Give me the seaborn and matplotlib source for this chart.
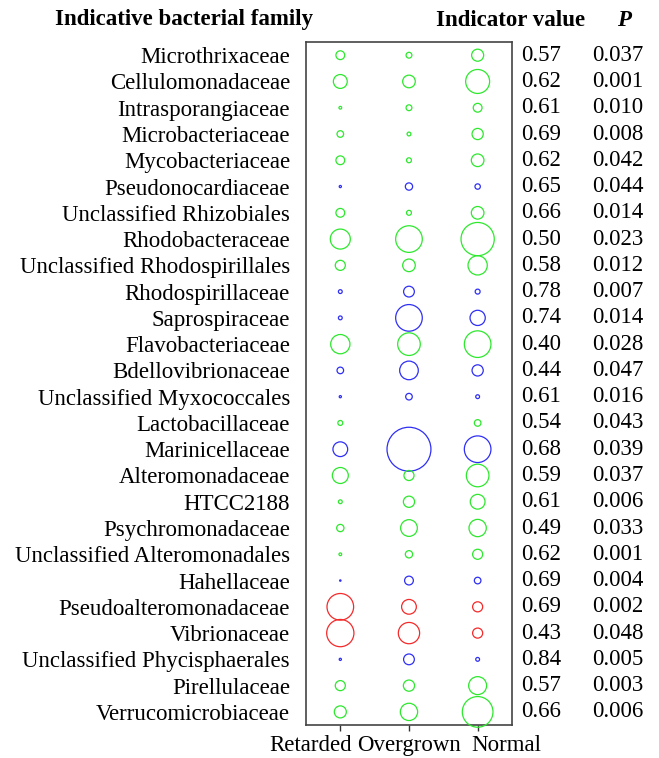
import numpy as np
import pandas as pd
import matplotlib
matplotlib.use("Agg")
import matplotlib.pyplot as plt
import matplotlib.transforms as mtransforms
import seaborn as sns

# Indicator families, listed top to bottom
families = [
    "Microthrixaceae", "Cellulomonadaceae", "Intrasporangiaceae",
    "Microbacteriaceae", "Mycobacteriaceae", "Pseudonocardiaceae",
    "Unclassified Rhizobiales", "Rhodobacteraceae",
    "Unclassified Rhodospirillales", "Rhodospirillaceae", "Saprospiraceae",
    "Flavobacteriaceae", "Bdellovibrionaceae", "Unclassified Myxococcales",
    "Lactobacillaceae", "Marinicellaceae", "Alteromonadaceae", "HTCC2188",
    "Psychromonadaceae", "Unclassified Alteromonadales", "Hahellaceae",
    "Pseudoalteromonadaceae", "Vibrionaceae", "Unclassified Phycisphaerales",
    "Pirellulaceae", "Verrucomicrobiaceae",
]

groups = ["Retarded", "Overgrown", "Normal"]

# Group for which each family is an indicator
indicator_of = [
    "Normal", "Normal", "Normal", "Normal", "Normal", "Overgrown",
    "Normal", "Normal", "Normal", "Overgrown", "Overgrown", "Normal",
    "Overgrown", "Overgrown", "Normal", "Overgrown", "Normal", "Normal",
    "Normal", "Normal", "Overgrown", "Retarded", "Retarded", "Overgrown",
    "Normal", "Normal",
]

# Relative abundance (%) in each group
retarded = [0.16, 0.40, 0.015, 0.09, 0.16, 0.01, 0.16, 0.83, 0.21, 0.03,
            0.03, 0.77, 0.09, 0.01, 0.05, 0.45, 0.53, 0.03, 0.11, 0.015,
            0.004, 1.47, 1.54, 0.01, 0.21, 0.30]
overgrown = [0.07, 0.33, 0.07, 0.03, 0.05, 0.11, 0.05, 1.47, 0.33, 0.24,
             1.47, 1.06, 0.72, 0.09, 0.0, 4.00, 0.21, 0.26, 0.58, 0.11,
             0.16, 0.45, 0.94, 0.24, 0.26, 0.62]
normal = [0.30, 1.19, 0.16, 0.26, 0.33, 0.06, 0.33, 2.29, 0.77, 0.05,
          0.48, 1.47, 0.26, 0.03, 0.09, 1.47, 1.06, 0.45, 0.62, 0.21,
          0.09, 0.21, 0.21, 0.03, 0.67, 1.95]

indicator_value = ["0.57", "0.62", "0.61", "0.69", "0.62", "0.65", "0.66",
                   "0.50", "0.58", "0.78", "0.74", "0.40", "0.44", "0.61",
                   "0.54", "0.68", "0.59", "0.61", "0.49", "0.62", "0.69",
                   "0.69", "0.43", "0.84", "0.57", "0.66"]
p_value = ["0.037", "0.001", "0.010", "0.008", "0.042", "0.044", "0.014",
           "0.023", "0.012", "0.007", "0.014", "0.028", "0.047", "0.016",
           "0.043", "0.039", "0.037", "0.006", "0.033", "0.001", "0.004",
           "0.002", "0.048", "0.005", "0.003", "0.006"]

palette = {"Normal": "#2ee82e", "Overgrown": "#2f2ff5", "Retarded": "#f52a2a"}

n = len(families)
row_pos = {f: n - i for i, f in enumerate(families)}   # top row gets y = n
col_pos = {g: i + 1 for i, g in enumerate(groups)}

records = []
for i, fam in enumerate(families):
    for g, vals in zip(groups, (retarded, overgrown, normal)):
        records.append({"family": fam, "group": g, "abundance": vals[i],
                        "indicator": indicator_of[i]})
df = pd.DataFrame(records)
df = df[df["abundance"] > 0].copy()
df["x"] = df["group"].map(col_pos)
df["y"] = df["family"].map(row_pos)

sns.set_style("white")
plt.rcParams["font.family"] = ["Liberation Serif", "DejaVu Serif"]
plt.rcParams["text.color"] = "black"
plt.rcParams["xtick.labelcolor"] = "black"
plt.rcParams["ytick.labelcolor"] = "black"
FS = 16.5

fig = plt.figure(figsize=(6.59, 7.58), dpi=100)
ax = fig.add_axes([0.4643, 0.0435, 0.3126, 0.901])

sns.scatterplot(data=df, x="x", y="y", hue="indicator", size="abundance",
                palette=palette, sizes=(0, 1000), size_norm=(0, 4.0),
                linewidth=0.9, legend=False, ax=ax, zorder=3)

# Hollow circles: outline in the group colour, no fill
coll = ax.collections[0]
fc = coll.get_facecolors()
coll.set_edgecolors(fc)
coll.set_facecolors("none")
coll.set_linewidths(0.9)
coll.set_clip_on(False)

ax.set_xlim(0.5, 3.5)
ax.set_ylim(0.5, n + 0.5)
ax.set_xlabel("")
ax.set_ylabel("")

ax.set_xticks([1, 2, 3], labels=groups)
ax.set_yticks(list(range(n, 0, -1)), labels=families)
ax.set_yticks([5, 10, 15, 20, 25], minor=True)
ax.tick_params(axis="x", which="major", direction="out", length=4, width=1,
               color="#333333", labelcolor="black", labelsize=FS, pad=3,
               bottom=True)
ax.tick_params(axis="y", which="major", length=0, labelsize=FS, pad=11.5,
               labelcolor="black", left=True)
ax.tick_params(axis="y", which="minor", direction="out", length=5, width=1,
               color="#333333", left=True)

# Outer group labels are nudged outward so the three names sit side by side
shifts = [-30, 0, 29]
for lab, dx in zip(ax.get_xticklabels(), shifts):
    lab.set_transform(lab.get_transform() +
                      mtransforms.ScaledTranslation(dx / 100, 0,
                                                    fig.dpi_scale_trans))

for sp in ax.spines.values():
    sp.set_visible(True)
    sp.set_color("#444444")
    sp.set_linewidth(1.2)

# Indicator value and P columns to the right of the panel
trans = mtransforms.blended_transform_factory(fig.transFigure, ax.transData)
for i, fam in enumerate(families):
    y = row_pos[fam]
    ax.text(0.821, y, indicator_value[i], transform=trans, ha="center",
            va="center", fontsize=FS, color="black")
    ax.text(0.938, y, p_value[i], transform=trans, ha="center",
            va="center", fontsize=FS, color="black")

head_y = 1 - 20 / 758
fig.text(0.279, head_y, "Indicative bacterial family", ha="center",
         va="center", fontsize=FS, fontweight="bold", color="black")
fig.text(0.774, head_y, "Indicator value", ha="center", va="center",
         fontsize=FS, fontweight="bold", color="black")
fig.text(0.947, head_y, "P", ha="center", va="center", fontsize=FS,
         fontweight="bold", fontstyle="italic", color="black")

fig.savefig("out.png", dpi=100, facecolor="white")
